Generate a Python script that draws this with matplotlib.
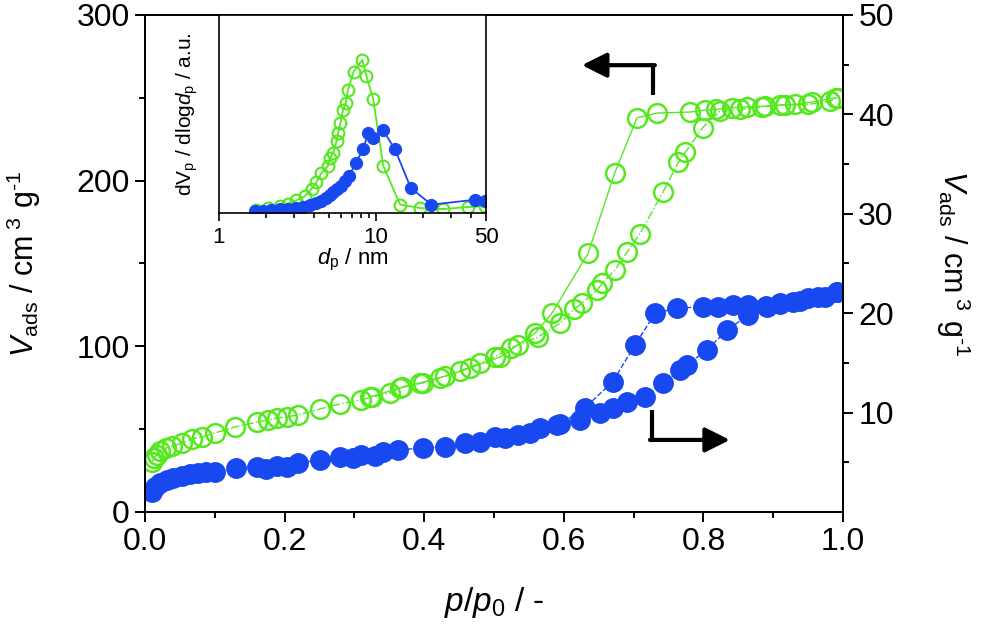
import matplotlib
matplotlib.use("Agg")
import matplotlib.pyplot as plt
from matplotlib.ticker import MultipleLocator, FixedLocator, NullFormatter, FormatStrFormatter

plt.rcParams['font.family'] = ['Liberation Sans', 'DejaVu Sans']
plt.rcParams['mathtext.fontset'] = 'custom'
plt.rcParams['mathtext.rm'] = 'Liberation Sans'
plt.rcParams['mathtext.it'] = 'Liberation Sans:italic'

GREEN = '#55E81E'
BLUE = '#1848F0'

# ---- isotherm, sample on left axis (open green) ----
g_ads_p = [0.010, 0.013, 0.017, 0.021, 0.030, 0.039, 0.053, 0.067, 0.082, 0.100,
           0.129, 0.160, 0.176, 0.189, 0.203, 0.219, 0.251, 0.279, 0.309, 0.325,
           0.351, 0.368, 0.398, 0.423, 0.451, 0.480, 0.501, 0.524, 0.563, 0.595,
           0.615, 0.626, 0.648, 0.655, 0.673, 0.691, 0.709, 0.742, 0.764, 0.774,
           0.799, 0.824, 0.852, 0.884, 0.917, 0.950, 0.981, 0.993]
g_ads_v = [30.2, 32.6, 34.4, 36.8, 38.6, 39.8, 41.6, 44.1, 45.3, 47.7,
           51.3, 54.3, 55.5, 56.7, 57.5, 58.5, 62.2, 65.2, 67.6, 69.4,
           71.8, 75.5, 77.9, 80.9, 85.1, 89.9, 93.6, 99.0, 105.6, 114.0,
           122.5, 126.0, 134.0, 138.0, 146.0, 157.0, 168.0, 193.0, 211.0, 217.0,
           232.0, 242.0, 243.0, 244.5, 245.7, 246.0, 248.0, 250.0]
g_des_p = [0.990, 0.956, 0.931, 0.910, 0.888, 0.862, 0.841, 0.818, 0.802, 0.781,
           0.734, 0.705, 0.673, 0.635, 0.583, 0.559, 0.534, 0.509, 0.466, 0.430,
           0.394, 0.365, 0.322]
g_des_v = [250.0, 247.5, 246.0, 245.7, 245.0, 244.5, 244.0, 243.0, 242.6, 241.4,
           240.8, 238.0, 204.6, 156.3, 120.0, 108.0, 100.8, 93.6, 87.0, 82.0,
           77.9, 74.8, 69.4]

# ---- isotherm, sample on right axis (filled blue) ----
b_ads_p = [0.010, 0.014, 0.021, 0.031, 0.040, 0.053, 0.064, 0.076, 0.088, 0.100,
           0.131, 0.160, 0.174, 0.189, 0.203, 0.219, 0.251, 0.279, 0.298, 0.310,
           0.330, 0.341, 0.362, 0.398, 0.430, 0.458, 0.480, 0.501, 0.534, 0.566,
           0.590, 0.623, 0.652, 0.670, 0.691, 0.716, 0.742, 0.766, 0.776, 0.805,
           0.834, 0.864, 0.891, 0.910, 0.928, 0.950, 0.974, 0.991]
b_ads_v = [2.04, 2.55, 2.92, 3.22, 3.42, 3.62, 3.82, 3.95, 4.05, 4.05,
           4.43, 4.53, 4.33, 4.63, 4.56, 4.96, 5.23, 5.56, 5.43, 5.73,
           5.63, 6.07, 6.24, 6.44, 6.57, 6.94, 7.07, 7.58, 7.75, 8.45,
           8.75, 9.26, 9.96, 10.46, 11.07, 11.57, 12.98, 14.29, 14.79, 16.3,
           18.3, 19.8, 20.6, 21.0, 21.1, 21.5, 21.6, 22.1]
b_des_p = [0.991, 0.964, 0.938, 0.910, 0.890, 0.864, 0.842, 0.821, 0.799, 0.762,
           0.731, 0.702, 0.670, 0.630, 0.595, 0.552, 0.516]
b_des_v = [22.1, 21.6, 21.2, 20.9, 20.7, 20.8, 20.8, 20.65, 20.65, 20.5,
           20.0, 16.8, 13.1, 10.46, 8.85, 7.95, 7.44]

# ---- pore size distributions (inset) ----
psd_g_d = [1.73, 2.05, 2.44, 2.75, 3.11, 3.51, 3.88, 4.17, 4.49, 4.95,
           5.08, 5.33, 5.60, 5.72, 5.93, 6.16, 6.41, 6.62, 7.18, 8.18,
           8.67, 9.58, 11.09, 14.2, 19.1, 26.7, 38.5, 49.3]
psd_g_v = [1.3, 2.5, 3.7, 4.7, 6.4, 8.4, 12.1, 15.5, 20.2, 23.9,
           27.7, 30.3, 36.1, 40.3, 45.4, 52.1, 55.5, 62.2, 71.4, 77.3,
           69.2, 57.5, 23.9, 4.2, 2.5, 2.0, 3.0, 3.4]
psd_b_d = [1.69, 1.91, 2.15, 2.44, 2.75, 3.11, 3.43, 3.78, 4.17, 4.49,
           4.83, 5.08, 5.33, 5.60, 5.94, 6.32, 6.70, 7.43, 8.27, 8.90,
           9.58, 11.09, 13.15, 16.63, 22.5, 42.6, 49.3]
psd_b_v = [0.8, 1.2, 1.5, 1.8, 2.2, 2.7, 3.2, 4.0, 5.0, 6.2,
           7.7, 9.1, 10.4, 12.1, 13.8, 16.0, 18.5, 25.2, 32.3, 40.3,
           37.8, 41.7, 32.3, 12.6, 4.2, 6.7, 5.9]

# plain hyphen in the superscript, as in the original figure
vlabel = r'$V_{\rm ads}$ / cm$^{\ 3}$ g$^{' + '\u2010' + r'1}$'

fig = plt.figure(figsize=(9.81, 6.24), dpi=100)
ax = fig.add_axes([0.1478, 0.1795, 0.7115, 0.7965])
ax2 = ax.twinx()

# green (left axis)
ax.plot(g_ads_p, g_ads_v, '-.', color=GREEN, lw=1.0, marker='o', ms=13.5,
        mfc='none', mec=GREEN, mew=1.8)
ax.plot(g_des_p, g_des_v, '-', color=GREEN, lw=1.0, marker='o', ms=13.5,
        mfc='none', mec=GREEN, mew=1.8)
# blue (right axis)
ax2.plot(b_ads_p, b_ads_v, '--', color=BLUE, lw=1.0, marker='o', ms=14,
         mfc=BLUE, mec=BLUE)
ax2.plot(b_des_p, b_des_v, '--', color=BLUE, lw=1.0, marker='o', ms=14,
         mfc=BLUE, mec=BLUE)

ax.set_xlim(0, 1)
ax.set_ylim(0, 300)
ax2.set_ylim(0, 50)
ax.xaxis.set_major_locator(MultipleLocator(0.2))
ax.xaxis.set_minor_locator(MultipleLocator(0.1))
ax.xaxis.set_major_formatter(FormatStrFormatter('%.1f'))
ax.yaxis.set_major_locator(MultipleLocator(100))
ax.yaxis.set_minor_locator(MultipleLocator(50))
ax2.set_yticks([10, 20, 30, 40, 50])
ax2.yaxis.set_minor_locator(FixedLocator([5, 15, 25, 35, 45]))

for a in (ax, ax2):
    for s in a.spines.values():
        s.set_linewidth(1.4)
    a.tick_params(which='major', direction='out', length=7, width=1.4,
                  labelsize=23, pad=4)
    a.tick_params(which='minor', direction='out', length=4, width=1.4)
ax.tick_params(axis='both', which='both', top=False, right=False)

ax.set_xlabel(r'$p$/$p_0$ / -', fontsize=24, va='center')
ax.xaxis.set_label_coords(0.5, -0.183)
ax.set_ylabel(vlabel, fontsize=22, va='center')
ax.yaxis.set_label_coords(-0.173, 0.5)
ax2.set_ylabel(vlabel, fontsize=22, rotation=270, va='center')
ax2.yaxis.set_label_coords(1.158, 0.5)

# arrows pointing to the matching axis
head = '-|>,head_length=1.5,head_width=0.75'
ax2.plot([0.728, 0.728], [0.839, 0.899], color='k', lw=3,
         transform=ax2.transAxes, solid_capstyle='butt')
ax2.annotate('', xy=(0.626, 0.899), xytext=(0.7305, 0.899),
             xycoords='axes fraction',
             arrowprops=dict(arrowstyle=head, lw=3, color='k',
                             shrinkA=0, shrinkB=0))
ax2.plot([0.726, 0.726], [0.205, 0.145], color='k', lw=3,
         transform=ax2.transAxes, solid_capstyle='butt')
ax2.annotate('', xy=(0.838, 0.145), xytext=(0.7235, 0.145),
             xycoords='axes fraction',
             arrowprops=dict(arrowstyle=head, lw=3, color='k',
                             shrinkA=0, shrinkB=0))

# inset: pore size distribution
ins = fig.add_axes([0.2232, 0.6587, 0.2722, 0.3173])
ins.set_facecolor('white')
ins.plot(psd_g_d, psd_g_v, '-', color=GREEN, lw=1.3, marker='o', ms=8.5,
         mfc='none', mec=GREEN, mew=1.5)
ins.plot(psd_b_d, psd_b_v, '-', color=BLUE, lw=1.3, marker='o', ms=8.5,
         mfc=BLUE, mec=BLUE)
ins.set_xscale('log')
ins.set_xlim(1, 50)
ins.set_ylim(0, 100)
ins.xaxis.set_major_locator(FixedLocator([1, 10, 50]))
ins.xaxis.set_major_formatter(FormatStrFormatter('%d'))
ins.xaxis.set_minor_locator(FixedLocator([2, 3, 4, 5, 6, 7, 8, 9, 20, 30, 40]))
ins.xaxis.set_minor_formatter(NullFormatter())
ins.set_yticks([])
for s in ins.spines.values():
    s.set_linewidth(1.2)
ins.tick_params(which='major', direction='out', length=6, width=1.2,
                labelsize=16, pad=4)
ins.tick_params(which='minor', direction='out', length=3.5, width=1.2)
ins.set_xlabel(r'$d_{\rm p}$ / nm', fontsize=16, va='center')
ins.xaxis.set_label_coords(0.5, -0.235)
ins.set_ylabel(r'd$\mathrm{V}_{\rm p}$ / dlog$d_{\rm p}$ / a.u.', fontsize=15,
               va='center')
ins.yaxis.set_label_coords(-0.12, 0.5)

fig.savefig('out.png', dpi=100)
